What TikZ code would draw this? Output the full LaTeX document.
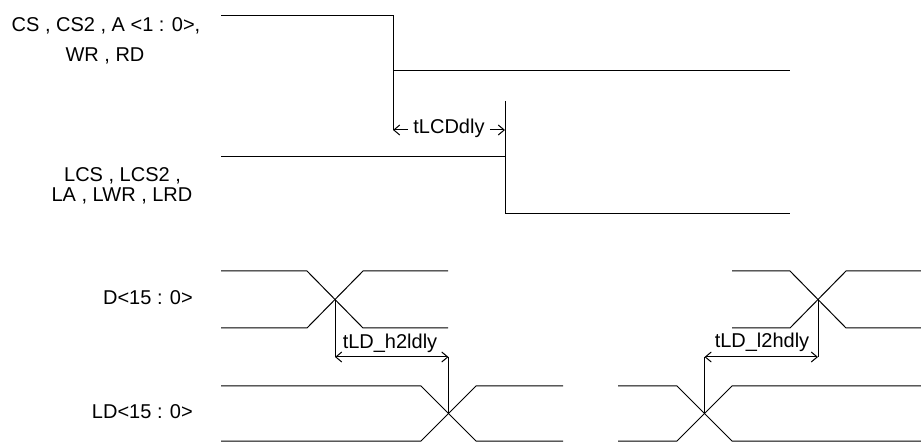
\documentclass[tikz,border=0pt]{standalone}
\usepackage{fontspec}
\setmainfont{Liberation Sans}
\usetikzlibrary{arrows.meta}
\begin{document}
\begin{tikzpicture}[x=1pt,y=-1pt,
  sig/.style={line width=1pt, line join=miter},
  tick/.style={line width=1pt},
  dim/.style={line width=1pt, {Straight Barb[length=6pt,width=10pt]}-{Straight Barb[length=6pt,width=10pt]}},
  dimend/.style={line width=1pt, -{Straight Barb[length=6pt,width=10pt]}},
  lbl/.style={font=\fontsize{20}{24}\selectfont, inner sep=0pt}]
\useasboundingbox (0,0) rectangle (921,443);

% signal labels
\node[lbl, anchor=base] (cs1) at (106,32) {CS , CS2 , A <1 : 0>,};
\node[lbl, anchor=base] (cs2) at (105,62) {WR , RD};
\node[lbl, anchor=base] (lcs1) at (122.5,182) {LCS , LCS2 ,};
\node[lbl, anchor=base] (lcs2) at (122,202) {LA , LWR , LRD};
\node[lbl, anchor=base east] (dlab) at (193,305) {D<15 : 0>};
\node[lbl, anchor=base east] (ldlab) at (193,418) {LD<15 : 0>};

% CS group waveform
\coordinate (a1) at (393,130);
\coordinate (a2) at (505,130);
\draw[sig] (221,15.5) -- (393,15.5) -- (a1);
\draw[sig] (393,71) -- (790,71);
% LCS group waveform
\draw[sig] (221,157) -- (505,157);
\draw[sig] (505,101) -- (505,214) -- (790,214);

% tLCDdly
\node[lbl, anchor=base, inner xsep=5pt] (tlcd) at (449,134) {tLCDdly};
\draw[dimend] (tlcd.west |- a1) -- (a1);
\draw[dimend] (tlcd.east |- a2) -- (a2);

% D waveform (left)
\draw[sig] (221,271) -- (307,271) -- (363,328) -- (448,328);
\draw[sig] (221,328) -- (307,328) -- (363,271) -- (448,271);
\coordinate (dx1) at (335,299.5);
% D waveform (right)
\draw[sig] (732,271) -- (790,271) -- (846,328) -- (921,328);
\draw[sig] (732,328) -- (790,328) -- (846,271) -- (921,271);
\coordinate (dx2) at (818,299.5);

% LD waveform (left)
\draw[sig] (221,386) -- (421,386) -- (476,441) -- (563,441);
\draw[sig] (221,441) -- (421,441) -- (476,386) -- (563,386);
\coordinate (lx1) at (448.5,413.5);
% LD waveform (right)
\draw[sig] (618,386) -- (677,386) -- (732,441) -- (921,441);
\draw[sig] (618,441) -- (677,441) -- (732,386) -- (921,386);
\coordinate (lx2) at (704.5,413.5);

% tLD_h2ldly
\coordinate (p1) at (335,357);
\coordinate (p2) at (448.5,357);
\draw[tick] (dx1) -- (p1);
\draw[tick] (lx1) -- (p2);
\draw[dim] (p1) -- (p2);
\node[lbl, anchor=base] (th2l) at (390,349) {tLD\_h2ldly};

% tLD_l2hdly
\coordinate (q1) at (704.5,357);
\coordinate (q2) at (818,357);
\draw[tick] (dx2) -- (q2);
\draw[tick] (lx2) -- (q1);
\draw[dim] (q1) -- (q2);
\node[lbl, anchor=base] (tl2h) at (762,348) {tLD\_l2hdly};
\end{tikzpicture}
\end{document}
